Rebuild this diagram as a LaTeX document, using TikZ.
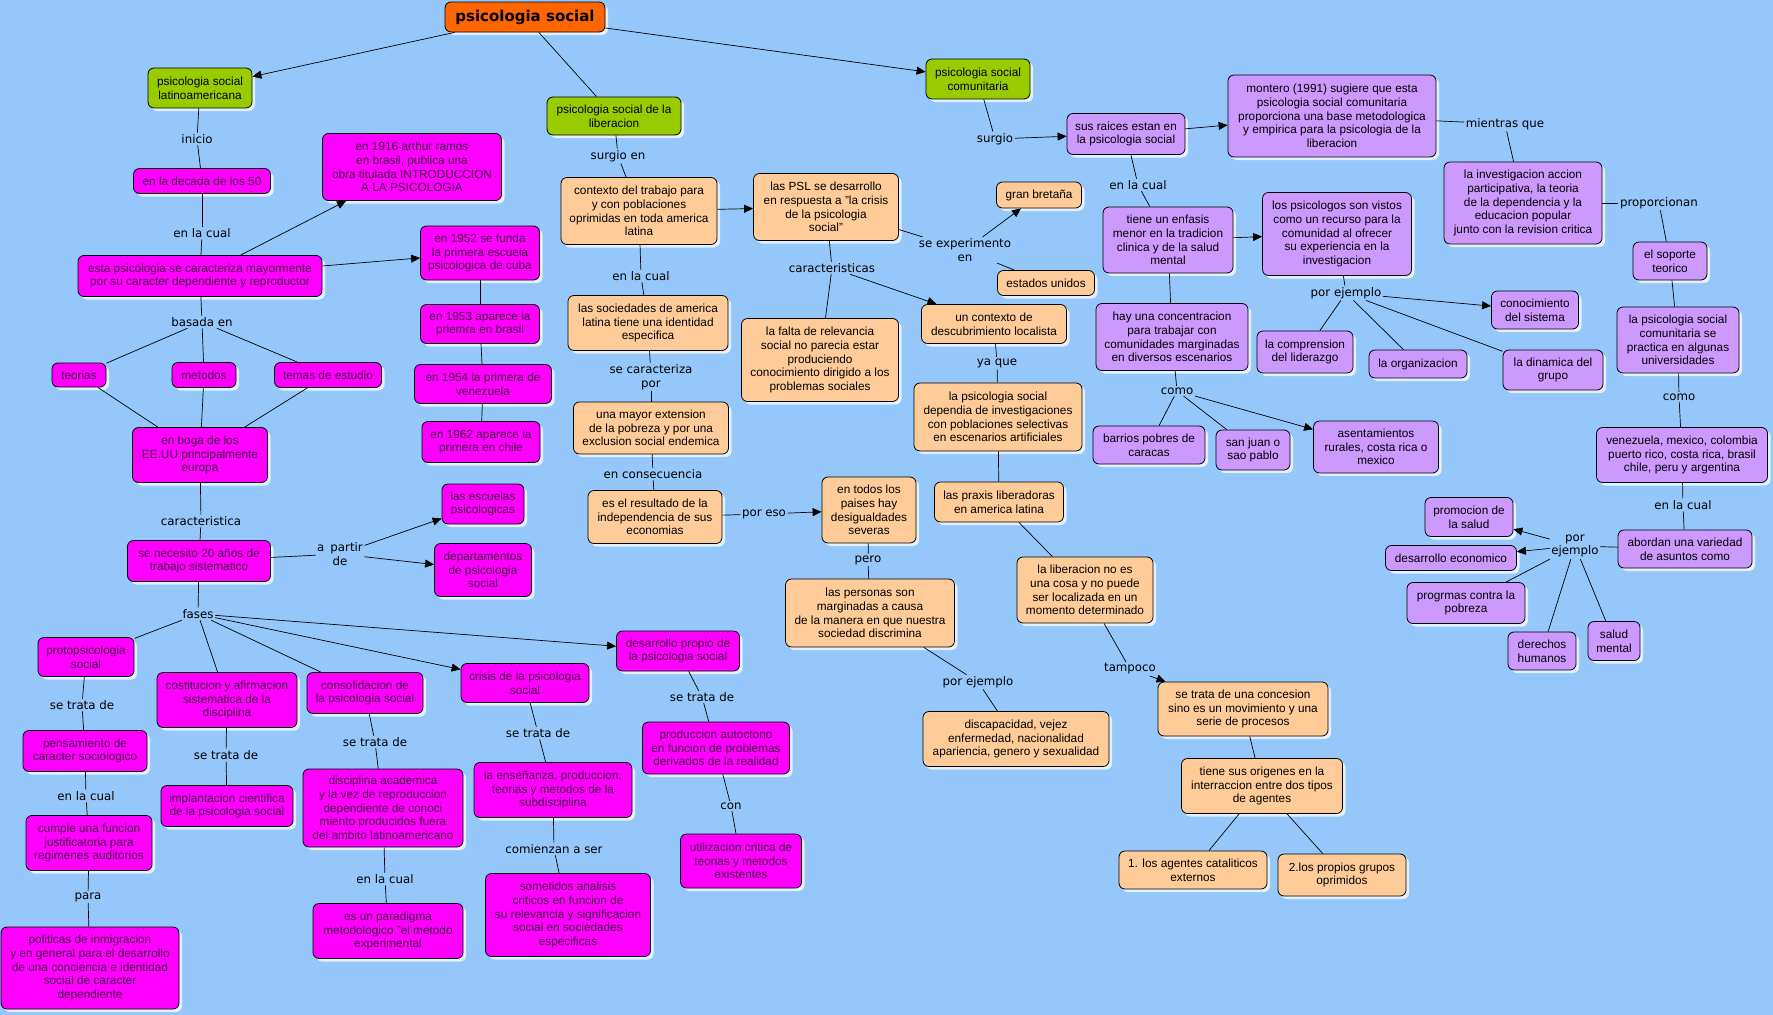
\documentclass[tikz,border=0pt]{standalone}
\usepackage{fontspec}
\setmainfont{Liberation Sans}
\newfontfamily\linkfamily{DejaVu Sans}
\usepackage{tikz}
\usetikzlibrary{arrows.meta,shadows,positioning}
\definecolor{mapbg}{RGB}{149,199,250}
\definecolor{magnode}{RGB}{255,0,255}
\definecolor{magtext}{RGB}{70,0,70}
\definecolor{peach}{RGB}{255,204,153}
\definecolor{lilac}{RGB}{204,153,255}
\definecolor{leaf}{RGB}{153,204,0}
\definecolor{titleorange}{RGB}{255,102,0}
\tikzset{>={Triangle[length=9pt,width=8pt]}}
\tikzset{
  concept/.style={draw=black, line width=0.8pt, rounded corners=6pt,
    align=center, inner sep=2pt, font=\fontsize{11.8}{13.7}\selectfont,
    drop shadow={shadow xshift=3pt, shadow yshift=-3pt, fill=white, opacity=0.75}},
  sz/.style 2 args={minimum width=#1pt, minimum height=#2pt},
  magbox/.style={concept, fill=magnode, text=magtext},
  peachbox/.style={concept, fill=peach},
  lilacbox/.style={concept, fill=lilac},
  leafbox/.style={concept, fill=leaf},
  linklabel/.style={font=\linkfamily\fontsize{11.8}{13.7}\selectfont, inner sep=1.5pt, align=center},
  link/.style={draw=black, line width=0.7pt},
}
\begin{document}
\begin{tikzpicture}[x=1pt, y=-1pt]
  \fill[mapbg] (0,0) rectangle (1773,1015);
  \useasboundingbox (0,0) rectangle (1773,1015);

  % main branches
  \node[concept, fill=titleorange, sz={160}{30}, font=\linkfamily\bfseries\fontsize{15}{17}\selectfont] (title) at (525,17) {psicologia social};
  \node[leafbox, sz={104}{40}] (latam) at (200,88) {psicologia social\\latinoamericana};
  \node[leafbox, sz={134}{38}] (liber) at (614,116) {psicologia social de la\\liberacion};
  \node[leafbox, sz={104}{40}] (comun) at (978,79) {psicologia social\\comunitaria};

  % psicologia social latinoamericana
  \node[magbox, sz={137}{25}] (decada) at (202,181) {en la decada de los 50};
  \node[magbox, sz={244}{41}] (caract) at (200,276) {esta psicologia se caracteriza mayormente\\por su caracter dependiente y reproductor};
  \node[magbox, sz={179}{67}] (ramos) at (412,167) {en 1916 arthur ramos\\en brasil, publica una\\obra titulada INTRODUCCION\\A LA PSICOLOGIA};
  \node[magbox, sz={119}{54}] (cuba) at (480,253) {en 1952 se funda\\la primera escuela\\psicologica de cuba};
  \node[magbox, sz={119}{39}] (brasil) at (480,324) {en 1953 aparece la\\priemra en brasil};
  \node[magbox, sz={137}{39}] (venez) at (483,384) {en 1954 la primera de\\venezuela};
  \node[magbox, sz={118}{41}] (chile) at (481,442) {en 1962 aparece la\\primera en chile};
  \node[magbox, sz={54}{24}] (teorias) at (79,375) {teorias};
  \node[magbox, sz={64}{25}] (metodos) at (204,375) {metodos};
  \node[magbox, sz={107}{25}] (temas) at (328,375) {temas de estudio};
  \node[magbox, sz={135}{55}] (boga) at (200,455) {en boga de los\\EE.UU principalmente\\europa};
  \node[magbox, sz={143}{41}] (veinte) at (199,561) {se necesito 20 años de\\trabajo sistematico};
  \node[magbox, sz={82}{40}] (escuelas) at (483,504) {las escuelas\\psicologicas};
  \node[magbox, sz={97}{53}] (deptos) at (483,570) {departamentos\\de psicologia\\social};
  \node[magbox, sz={96}{39}] (proto) at (86,657) {protopsicologia\\social};
  \node[magbox, sz={124}{41}] (pensam) at (85,751) {pensamiento de\\caracter sociologico};
  \node[magbox, sz={126}{55}] (cumple) at (89,843) {cumple una funcion\\justificatoria para\\regimenes auditorios};
  \node[magbox, sz={178}{82}] (politicas) at (90,968) {politicas de inmigracion\\y en general para el desarrollo\\de una conciencia e identidad\\social de caracter\\dependiente};
  \node[magbox, sz={140}{55}] (costit) at (227,700) {costitucion y afirmacion\\sistematica de la\\disciplina};
  \node[magbox, sz={132}{41}] (implant) at (227,806) {implantacion cientifica\\de la psicologia social};
  \node[magbox, sz={116}{41}] (consol) at (365,693) {consolidacion de\\la psicologia social};
  \node[magbox, sz={160}{78}] (academ) at (383,808) {disciplina academica\\y la vez de reproduccion\\dependiente de conoci\\miento producidos fuera\\del ambito latinoamericano};
  \node[magbox, sz={150}{55}] (paradig) at (388,931) {es un paradigma\\metodologico "el metodo\\experimental};
  \node[magbox, sz={128}{39}] (crisis) at (525,683) {crisis de la psicologia\\social};
  \node[magbox, sz={158}{55}] (ensen) at (553,790) {la enseñanza, produccion,\\teorias y metodos de la\\subdisciplina};
  \node[magbox, sz={165}{83}] (sometid) at (568,915) {sometidos analisis\\criticos en funcion de\\su relevancia y significacion\\social en sociedades\\especificas};
  \node[magbox, sz={123}{40}] (propio) at (678,651) {desarrollo propio de\\la psicologia social};
  \node[magbox, sz={147}{52}] (autoct) at (716,748) {produccion autoctono\\en funcion de problemas\\derivados de la realidad};
  \node[magbox, sz={121}{54}] (utiliz) at (741,861) {utilizacion critica de\\teorias y metodos\\existentes};

  % psicologia social de la liberacion
  \node[peachbox, sz={156}{67}] (contexto) at (639,211) {contexto del trabajo para\\y con poblaciones\\oprimidas en toda america\\latina};
  \node[peachbox, sz={145}{67}] (psl) at (826,207) {las PSL se desarrollo\\en respuesta a "la crisis\\de la psicologia\\social"};
  \node[peachbox, sz={160}{55}] (identid) at (648,323) {las sociedades de america\\latina tiene una identidad\\especifica};
  \node[peachbox, sz={157}{83}] (relev) at (820,360) {la falta de relevancia\\social no parecia estar\\produciendo\\conocimiento dirigido a los\\problemas sociales};
  \node[peachbox, sz={155}{52}] (pobreza) at (651,428) {una mayor extension\\de la pobreza y por una\\exclusion social endemica};
  \node[peachbox, sz={134}{53}] (economias) at (655,517) {es el resultado de la\\independencia de sus\\economias};
  \node[peachbox, sz={94}{66}] (desig) at (869,510) {en todos los\\paises hay\\desigualdades\\severas};
  \node[peachbox, sz={169}{68}] (marginad) at (870,613) {las personas son\\marginadas a causa\\de la manera en que nuestra\\sociedad discrimina};
  \node[peachbox, sz={186}{55}] (discap) at (1016,739) {discapacidad, vejez\\enfermedad, nacionalidad\\apariencia, genero y sexualidad};
  \node[peachbox, sz={85}{26}] (gran) at (1039,195) {gran bretaña};
  \node[peachbox, sz={97}{25}] (eeuu) at (1046,283) {estados unidos};
  \node[peachbox, sz={145}{39}] (localista) at (994,324) {un contexto de\\descubrimiento localista};
  \node[peachbox, sz={168}{68}] (artific) at (998,417) {la psicologia social\\dependia de investigaciones\\con poblaciones selectivas\\en escenarios artificiales};
  \node[peachbox, sz={129}{40}] (praxis) at (999,502) {las praxis liberadoras\\en america latina};
  \node[peachbox, sz={136}{66}] (liberac) at (1085,590) {la liberacion no es\\una cosa y no puede\\ser localizada en un\\momento determinado};
  \node[peachbox, sz={170}{54}] (concesion) at (1243,709) {se trata de una concesion\\sino es un movimiento y una\\serie de procesos};
  \node[peachbox, sz={161}{55}] (origenes) at (1262,786) {tiene sus origenes en la\\interraccion entre dos tipos\\de agentes};
  \node[peachbox, sz={148}{38}] (catalit) at (1193,870) {1. los agentes cataliticos\\externos};
  \node[peachbox, sz={128}{42}] (oprimid) at (1342,875) {2.los propios grupos\\oprimidos};

  % psicologia social comunitaria
  \node[lilacbox, sz={118}{41}] (raices) at (1126,134) {sus raices estan en\\la psicologia social};
  \node[lilacbox, sz={208}{82}] (montero) at (1332,116) {montero (1991) sugiere que esta\\psicologia social comunitaria\\proporciona una base metodologica\\y empirica para la psicologia de la\\liberacion};
  \node[lilacbox, sz={158}{82}] (iap) at (1523,203) {la investigacion accion\\participativa, la teoria\\de la dependencia y la\\educacion popular\\junto con la revision critica};
  \node[lilacbox, sz={74}{38}] (soporte) at (1670,261) {el soporte\\teorico};
  \node[lilacbox, sz={122}{66}] (univ) at (1678,340) {la psicologia social\\comunitaria se\\practica en algunas\\universidades};
  \node[lilacbox, sz={171}{55}] (paises) at (1682,455) {venezuela, mexico, colombia\\puerto rico, costa rica, brasil\\chile, peru y argentina};
  \node[lilacbox, sz={134}{38}] (asuntos) at (1685,549) {abordan una variedad\\de asuntos como};
  \node[lilacbox, sz={88}{39}] (salud) at (1469,517) {promocion de\\la salud};
  \node[lilacbox, sz={131}{25}] (desarr) at (1451,558) {desarrollo economico};
  \node[lilacbox, sz={118}{41}] (progr) at (1466,603) {progrmas contra la\\pobreza};
  \node[lilacbox, sz={68}{38}] (derechos) at (1542,651) {derechos\\humanos};
  \node[lilacbox, sz={52}{39}] (mental) at (1614,641) {salud\\mental};
  \node[lilacbox, sz={130}{66}] (enfasis) at (1168,240) {tiene un enfasis\\menor en la tradicion\\clinica y de la salud\\mental};
  \node[lilacbox, sz={149}{83}] (recurso) at (1337,234) {los psicologos son vistos\\como un recurso para la\\comunidad al ofrecer\\su experiencia en la\\investigacion};
  \node[lilacbox, sz={152}{67}] (concentr) at (1172,337) {hay una concentracion\\para trabajar con\\comunidades marginadas\\en diversos escenarios};
  \node[lilacbox, sz={87}{38}] (conocim) at (1535,310) {conocimiento\\del sistema};
  \node[lilacbox, sz={96}{42}] (lideraz) at (1305,352) {la comprension\\del liderazgo};
  \node[lilacbox, sz={98}{28}] (organiz) at (1418,364) {la organizacion};
  \node[lilacbox, sz={100}{40}] (dinamica) at (1553,370) {la dinamica del\\grupo};
  \node[lilacbox, sz={112}{38}] (barrios) at (1149,445) {barrios pobres de\\caracas};
  \node[lilacbox, sz={74}{40}] (sanjuan) at (1253,450) {san juan o\\sao pablo};
  \node[lilacbox, sz={125}{52}] (asentam) at (1376,447) {asentamientos\\rurales, costa rica o\\mexico};

  % link labels
  \node[linklabel] (inicio) at (197,139) {inicio};
  \node[linklabel] (cualA) at (202,233) {en la cual};
  \node[linklabel] (basada) at (202,322) {basada en};
  \node[linklabel] (caracta) at (201,521) {caracteristica};
  \node[linklabel] (partir) at (340,554) {a\hspace{6pt}partir\\de};
  \node[linklabel] (fases) at (198,614) {fases};
  \node[linklabel] (trataA) at (82,705) {se trata de};
  \node[linklabel] (cualB) at (86,796) {en la cual};
  \node[linklabel] (para) at (88,897) {para};
  \node[linklabel] (trataB) at (226,755) {se trata de};
  \node[linklabel] (trataC) at (375,742) {se trata de};
  \node[linklabel] (cualC) at (385,879) {en la cual};
  \node[linklabel] (trataD) at (538,733) {se trata de};
  \node[linklabel] (comienzan) at (554,849) {comienzan a ser};
  \node[linklabel] (trataE) at (702,697) {se trata de};
  \node[linklabel] (con) at (731,806) {con};
  \node[linklabel] (surgioen) at (618,156) {surgio en};
  \node[linklabel] (cualD) at (641,276) {en la cual};
  \node[linklabel] (secaract) at (651,377) {se caracteriza\\por};
  \node[linklabel] (consec) at (653,474) {en consecuencia};
  \node[linklabel] (poreso) at (764,514) {por eso};
  \node[linklabel] (pero) at (868,560) {pero};
  \node[linklabel] (ejemploA) at (978,682) {por ejemplo};
  \node[linklabel] (caracts) at (832,268) {caracteristicas};
  \node[linklabel] (experim) at (965,250) {se experimento\\en};
  \node[linklabel] (yaque) at (997,363) {ya que};
  \node[linklabel] (tampoco) at (1130,669) {tampoco};
  \node[linklabel] (surgio) at (995,139) {surgio};
  \node[linklabel] (cualE) at (1138,185) {en la cual};
  \node[linklabel] (mientras) at (1505,124) {mientras que};
  \node[linklabel] (proporc) at (1659,203) {proporcionan};
  \node[linklabel] (ejemploB) at (1346,293) {por ejemplo};
  \node[linklabel] (comoA) at (1177,391) {como};
  \node[linklabel] (comoB) at (1679,397) {como};
  \node[linklabel] (cualF) at (1683,505) {en la cual};
  \node[linklabel] (ejemploC) at (1575,546) {por\\ejemplo};

  % plain connectors
  \foreach \a/\b in {title/liber, latam/inicio, inicio/decada, decada/cualA, cualA/caract,
      cuba/brasil, brasil/venez, venez/chile, caract/basada, basada/teorias, basada/metodos,
      basada/temas, teorias/boga, metodos/boga, temas/boga, boga/caracta, caracta/veinte,
      veinte/partir, veinte/fases, fases/proto, fases/costit, fases/consol,
      proto/trataA, trataA/pensam, pensam/cualB, cualB/cumple, cumple/para, para/politicas,
      costit/trataB, trataB/implant, consol/trataC, trataC/academ, academ/cualC, cualC/paradig,
      crisis/trataD, trataD/ensen, ensen/comienzan, comienzan/sometid,
      propio/trataE, trataE/autoct, autoct/con, con/utiliz,
      liber/surgioen, surgioen/contexto, contexto/cualD, cualD/identid, identid/secaract,
      secaract/pobreza, pobreza/consec, consec/economias, economias/poreso, desig/pero,
      pero/marginad, marginad/ejemploA, ejemploA/discap, psl/caracts, caracts/relev,
      psl/experim, experim/eeuu, localista/yaque, yaque/artific, artific/praxis,
      praxis/liberac, liberac/tampoco, concesion/origenes, origenes/catalit, origenes/oprimid,
      comun/surgio, montero/mientras, mientras/iap, iap/proporc, proporc/soporte,
      soporte/univ, univ/comoB, comoB/paises, paises/cualF, cualF/asuntos, asuntos/ejemploC,
      ejemploC/progr, ejemploC/derechos, ejemploC/mental, raices/cualE, cualE/enfasis,
      enfasis/concentr, concentr/comoA, comoA/barrios, comoA/sanjuan,
      recurso/ejemploB, ejemploB/lideraz, ejemploB/organiz, ejemploB/dinamica}
    \draw[link] (\a) -- (\b);

  % arrows
  \foreach \a/\b in {title/latam, title/comun, caract/ramos, caract/cuba, partir/escuelas,
      partir/deptos, fases/crisis, fases/propio, contexto/psl, poreso/desig, caracts/localista,
      experim/gran, tampoco/concesion, surgio/raices, raices/montero, enfasis/recurso,
      ejemploB/conocim, comoA/asentam, ejemploC/salud, ejemploC/desarr}
    \draw[link, ->] (\a) -- (\b);
\end{tikzpicture}
\end{document}
